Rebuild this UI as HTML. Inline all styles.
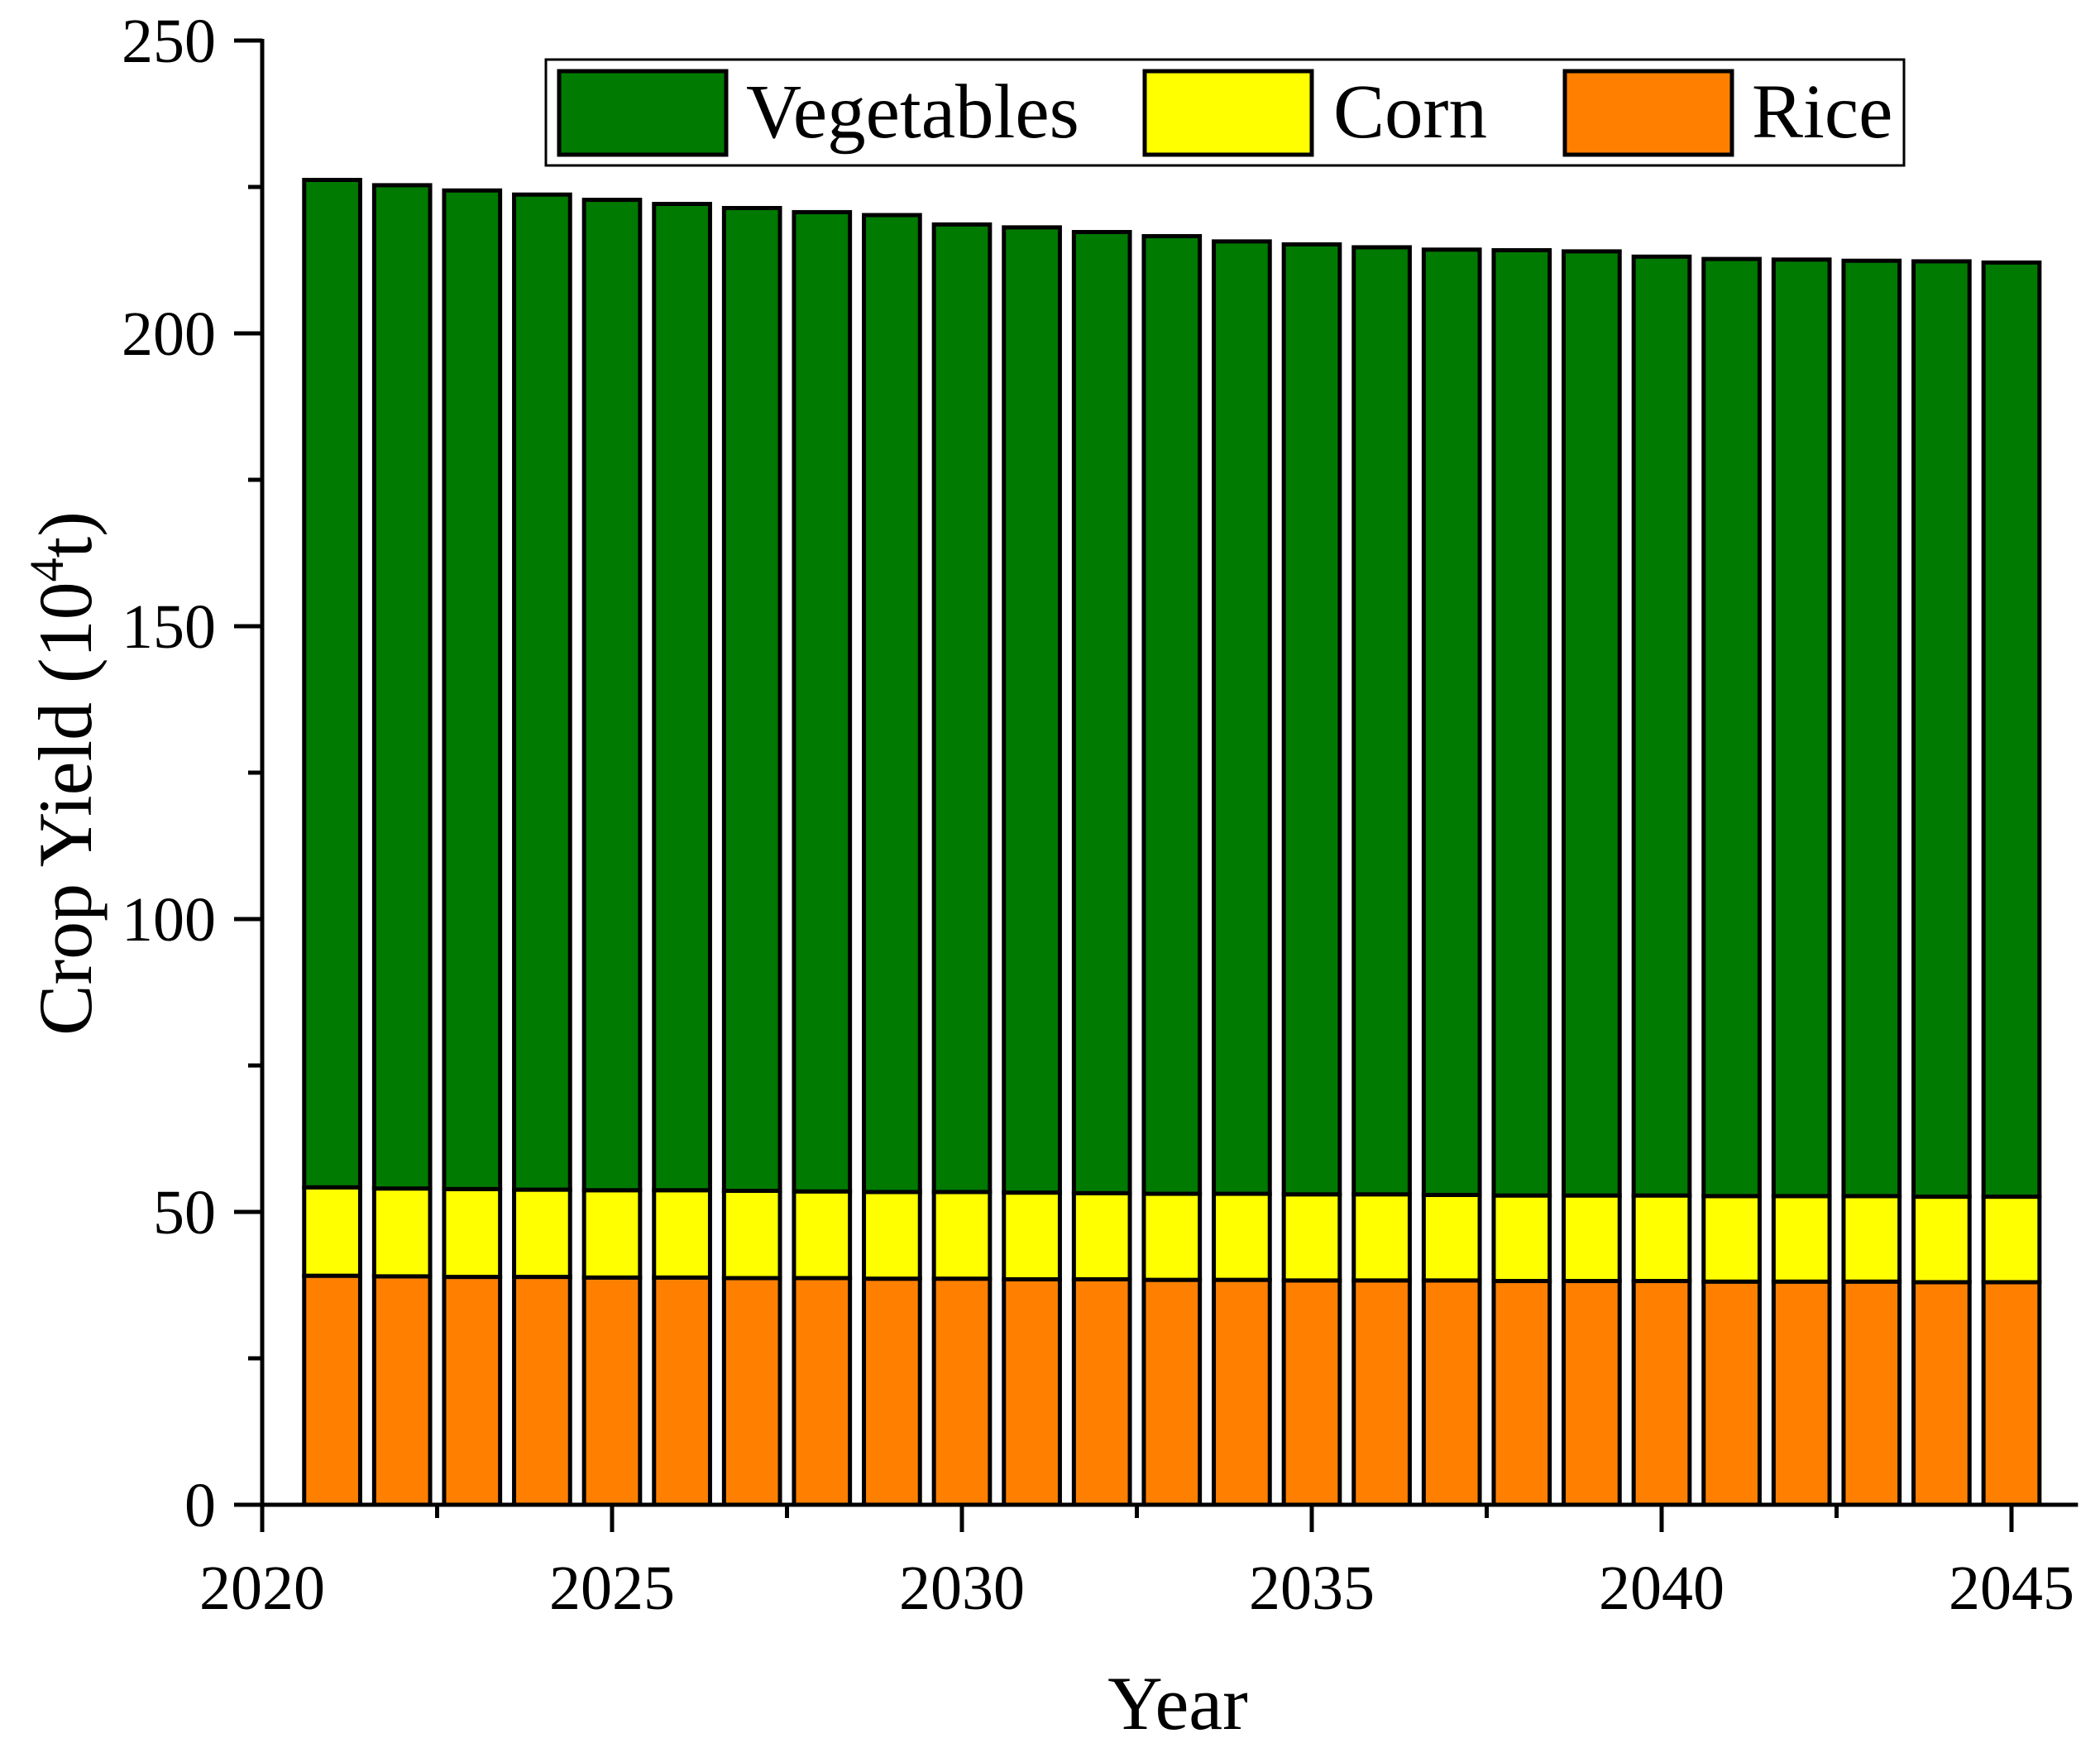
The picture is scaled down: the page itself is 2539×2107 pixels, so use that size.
<!DOCTYPE html>
<html><head><meta charset="utf-8"><style>
html,body{margin:0;padding:0;background:#fff}
svg{display:block;font-family:"Liberation Serif",serif}
</style></head><body>
<svg id="chart" width="2539" height="2107" viewBox="0 0 2539 2107" xmlns="http://www.w3.org/2000/svg">
<g id="bars"></g>
<g id="axes"></g>
<text x="1424" y="2090" font-size="92" text-anchor="middle">Year</text>
<text transform="translate(110,935) rotate(-90)" font-size="92" text-anchor="middle">Crop Yield (10<tspan font-size="58" dy="-34">4</tspan><tspan dy="34">t)</tspan></text>
<g>
<rect x="660" y="72" width="1642" height="128" fill="#fff" stroke="#000" stroke-width="3"/>
<rect x="676" y="86" width="202" height="101" fill="#007a00" stroke="#000" stroke-width="5"/>
<text x="902" y="166" font-size="93">Vegetables</text>
<rect x="1384" y="86" width="202" height="101" fill="#ffff00" stroke="#000" stroke-width="5"/>
<text x="1612" y="166" font-size="93">Corn</text>
<rect x="1892" y="86" width="202" height="101" fill="#ff8000" stroke="#000" stroke-width="5"/>
<text x="2118" y="166" font-size="93">Rice</text>
</g>
</svg>
<script>
const years = [2021,2022,2023,2024,2025,2026,2027,2028,2029,2030,2031,2032,2033,2034,2035,2036,2037,2038,2039,2040,2041,2042,2043,2044,2045];
const rice = [39.1,39.0,38.9,38.9,38.8,38.8,38.7,38.7,38.6,38.6,38.5,38.5,38.4,38.4,38.3,38.3,38.3,38.2,38.2,38.2,38.1,38.1,38.1,38.0,38.0];
const corn = [15.1,15.0,15.0,14.9,14.9,14.9,14.9,14.8,14.8,14.8,14.8,14.7,14.7,14.7,14.7,14.7,14.6,14.6,14.6,14.6,14.6,14.6,14.6,14.6,14.6];
const totals = [226.2,225.3,224.4,223.7,222.8,222.1,221.4,220.7,220.2,218.6,218.1,217.3,216.6,215.7,215.2,214.7,214.3,214.2,214.0,213.1,212.7,212.6,212.4,212.3,212.1];
const yTicks = [0,50,100,150,200,250];
const xTicks = [2020,2025,2030,2035,2040,2045];

const NS='http://www.w3.org/2000/svg';
const X0=317, Y0=1819, PXY=84.6, PXV=7.08;
const xs = v => X0 + (v-2020)*PXY;
const ys = v => Y0 - v*PXV;
function mk(tag, attrs, parent){const e=document.createElementNS(NS,tag);for(const k in attrs)e.setAttribute(k,attrs[k]);parent.appendChild(e);return e;}
const bars=document.getElementById('bars'), axes=document.getElementById('axes');
const bw=0.8*PXY;
years.forEach((yr,i)=>{
  const segs=[[0,rice[i],'#ff8000','rice'],[rice[i],rice[i]+corn[i],'#ffff00','corn'],[rice[i]+corn[i],totals[i],'#007a00','vegetables']];
  segs.forEach(s=>{
    const r=mk('rect',{x:xs(yr)-bw/2,y:ys(s[1]),width:bw,height:ys(s[0])-ys(s[1]),fill:s[2],stroke:'#000','stroke-width':5},bars);
    
    
  });
});
let l=mk('line',{x1:X0,y1:ys(250)-2,x2:X0,y2:Y0+33,stroke:'#000','stroke-width':5},axes);


l=mk('line',{x1:X0-34,y1:Y0,x2:xs(2045.95),y2:Y0,stroke:'#000','stroke-width':5},axes);


for(let v=0;v<=250;v+=25){
  const major=v%50===0;
  const t=mk('line',{x1:X0-(major?34:17),y1:ys(v),x2:X0,y2:ys(v),stroke:'#000','stroke-width':5},axes);
  
  
}
yTicks.forEach(v=>{
  const t=mk('text',{x:X0-56,y:ys(v)+26,'font-size':76,'text-anchor':'end'},axes);
  t.textContent=v;
  
  
});
for(let y=2020;y<=2045;y+=2.5){
  const major=(y%5===0);
  const t=mk('line',{x1:xs(y),y1:Y0,x2:xs(y),y2:Y0+(major?33:16),stroke:'#000','stroke-width':5},axes);
  
  
}
xTicks.forEach(v=>{
  const t=mk('text',{x:xs(v),y:1945,'font-size':76,'text-anchor':'middle'},axes);
  t.textContent=v;
  
  
});
</script>
</body></html>
